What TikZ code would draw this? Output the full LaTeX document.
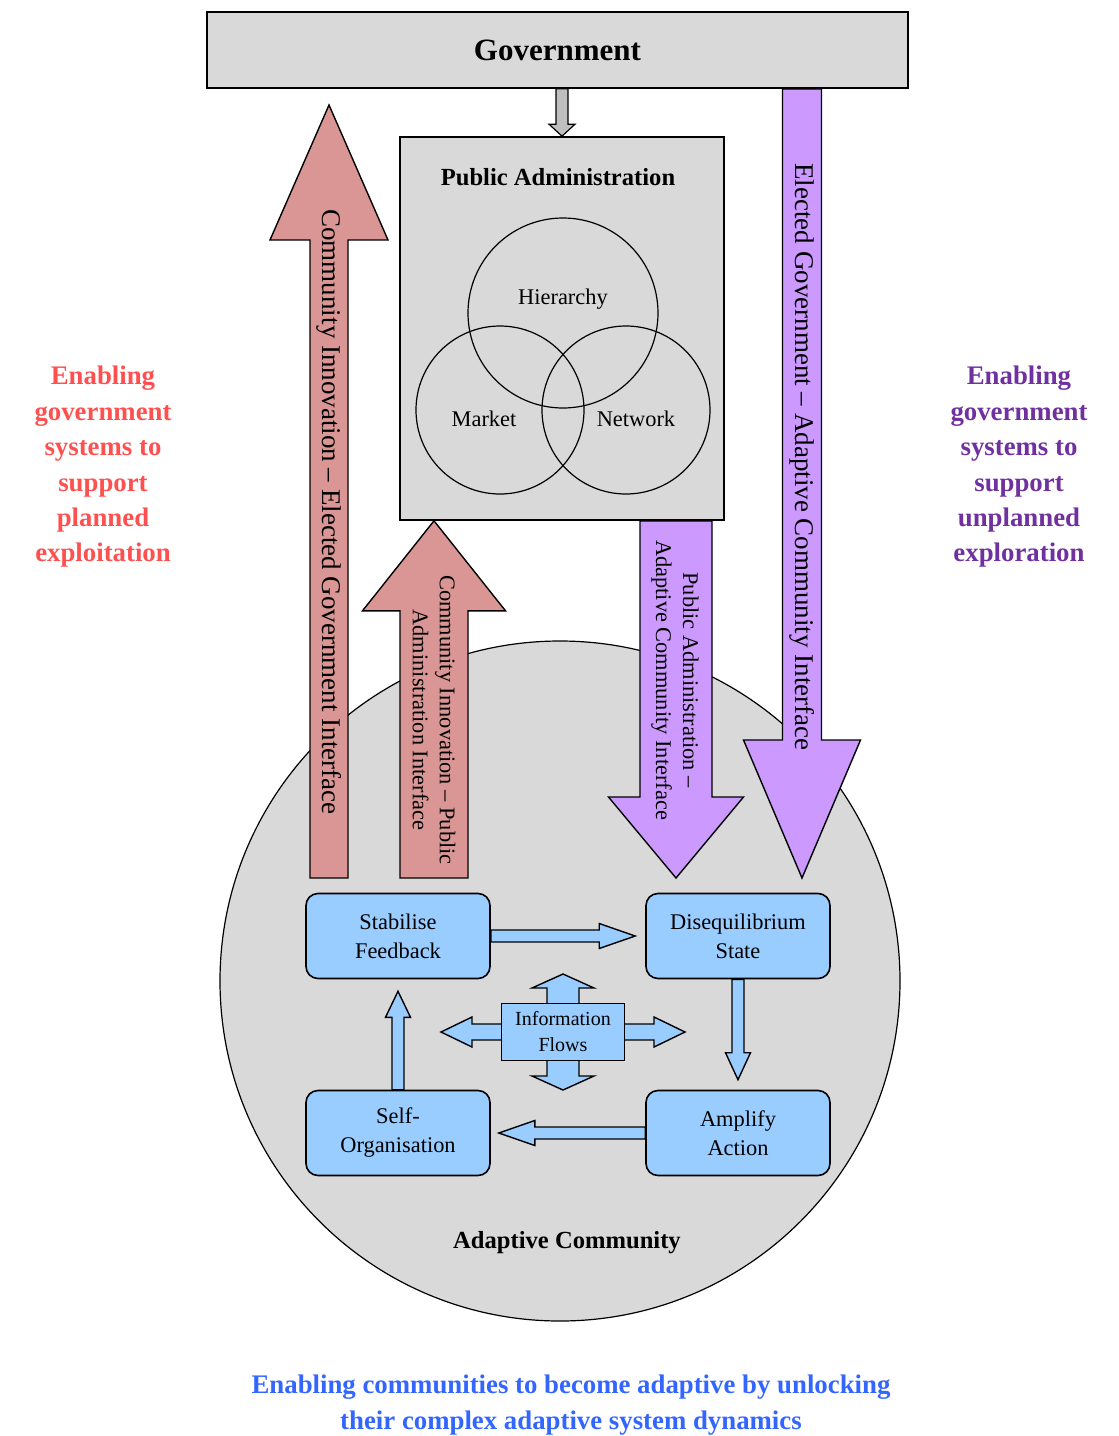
\documentclass[tikz,border=0pt]{standalone}
\usepackage{fontspec}
\setmainfont{Liberation Serif}
\usetikzlibrary{calc}

\definecolor{casgray}{HTML}{D9D9D9}
\definecolor{casblue}{HTML}{99CCFF}
\definecolor{casred}{HTML}{D99694}
\definecolor{caspurple}{HTML}{CC99FF}
\definecolor{planred}{HTML}{FF5050}
\definecolor{unplanpurple}{HTML}{7030A0}
\definecolor{goalblue}{HTML}{3366FF}

% block arrow: style, from, to, half shaft, half head, head length
\newcommand{\blockarrow}[6]{%
  \coordinate (ba-p) at ($(#3)!#6!(#2)$);
  \draw[#1] ($(#2)!#4!90:(#3)$) -- ($(ba-p)!#4!90:(#3)$) -- ($(ba-p)!#5!90:(#3)$)
    -- (#3) -- ($(ba-p)!#5!-90:(#3)$) -- ($(ba-p)!#4!-90:(#3)$)
    -- ($(#2)!#4!-90:(#3)$) -- cycle;
}

\begin{document}
\begin{tikzpicture}[x=0.5pt, y=-0.5pt]
%[node distance=2cm]

\tikzstyle{casnode}=[align=center, draw=black, fill=casgray, line width=0.8pt]
\tikzstyle{casstep}=[align=center, draw=black, fill=casblue, line width=0.8pt,
rounded corners=6pt, minimum width=92pt, minimum height=42.5pt,
font=\fontsize{11.2}{14.5}\selectfont]
\tikzstyle{casflow}=[align=center, draw=black, fill=casblue, line width=0.7pt,
minimum width=61.5pt, minimum height=28.5pt, inner sep=1pt,
font=\fontsize{10}{13}\selectfont]
\tikzstyle{casring}=[shape=circle, draw=black, line width=0.6pt, inner sep=0pt]
\tikzstyle{caslabel}=[align=center, font=\fontsize{11.2}{13.5}\selectfont]
\tikzstyle{castitle}=[font=\bfseries\fontsize{12.3}{15}\selectfont]
\tikzstyle{casside}=[align=center, font=\bfseries\fontsize{13.4}{17.7}\selectfont]
\tikzstyle{redarrow}=[draw=black, fill=casred, line width=0.7pt]
\tikzstyle{purplearrow}=[draw=black, fill=caspurple, line width=0.7pt]
\tikzstyle{bluearrow}=[draw=black, fill=casblue, line width=0.7pt]
\tikzstyle{grayarrow}=[draw=black, fill=black!25, line width=0.6pt]
\tikzstyle{arrowtext}=[rotate=-90, align=center]

\useasboundingbox (0,0) rectangle (1119,1436);

\node[casring, fill=casgray, minimum size=340pt] (community) at (560,981) {};
\node[castitle] (commtitle) at (567,1243) {Adaptive Community};

\node[casnode, minimum width=350.5pt, minimum height=38pt,
font=\bfseries\fontsize{15.5}{18}\selectfont] (gov) at (557.5,50) {Government};
\node[casnode, minimum width=162pt, minimum height=191.5pt] (pubadmin) at (562,328.5) {};
\node[castitle] (patitle) at (558,177) {Public Administration};
\node[casring, minimum size=95pt] (hierarchy) at (563,313) {};
\node[casring, minimum size=84pt] (market) at (500,410) {};
\node[casring, minimum size=84pt] (network) at (626,410) {};
\node[caslabel] (hierlabel) at (563,299) {Hierarchy};
\node[caslabel] (marketlabel) at (484,419) {Market};
\node[caslabel] (networklabel) at (636,419) {Network};

\coordinate (redtip) at (329,105);
\coordinate (redbase) at (329,878);
\coordinate (pinkbase) at (434,878);
\coordinate (pinktip) at (pubadmin.south -| pinkbase);
\coordinate (lpurpletip) at (676,878);
\coordinate (lpurplebase) at (pubadmin.south -| lpurpletip);
\coordinate (rpurpletip) at (802,878);
\coordinate (rpurplebase) at (gov.south -| rpurpletip);
\coordinate (graybase) at (gov.south -| pubadmin.north);

\blockarrow{grayarrow}{graybase}{pubadmin.north}{3pt}{6.5pt}{6pt}
\blockarrow{redarrow}{redbase}{redtip}{9.5pt}{29.5pt}{67.5pt}
\blockarrow{redarrow}{pinkbase}{pinktip}{17pt}{35.75pt}{45pt}
\blockarrow{purplearrow}{lpurplebase}{lpurpletip}{18pt}{33.75pt}{40.5pt}
\blockarrow{purplearrow}{rpurplebase}{rpurpletip}{9.75pt}{29.25pt}{69pt}

\node[arrowtext, font=\fontsize{13.5}{16}\selectfont] (redtext) at (329,512)
{Community Innovation -- Elected Government Interface};
\node[arrowtext, font=\fontsize{11.2}{13.5}\selectfont] (pinktext) at (434,720)
{Community Innovation -- Public\\Administration Interface};
\node[arrowtext, font=\fontsize{11.2}{13.5}\selectfont] (lpurpletext) at (675,680)
{Public Administration --\\Adaptive Community Interface};
\node[arrowtext, font=\fontsize{13.5}{16}\selectfont] (rpurpletext) at (802,457)
{Elected Government -- Adaptive Community Interface};

\node[casstep] (stab) at (398,936) {Stabilise\\Feedback};
\node[casstep] (diseq) at (738,936) {Disequilibrium\\State};
\node[casstep] (selforg) at (398,1133) {Self-\\Organisation};
\node[casstep] (amplify) at (738,1133) {Amplify\\Action};

\coordinate (diseqin) at ($(diseq.west)+(-10,0)$);
\coordinate (amplifyin) at ($(amplify.north)+(0,-10)$);
\coordinate (selforgin) at ($(selforg.east)+(8,0)$);
\coordinate (stabin) at ($(stab.south)+(0,12)$);

\blockarrow{bluearrow}{stab.east}{diseqin}{3pt}{6.25pt}{18pt}
\blockarrow{bluearrow}{diseq.south}{amplifyin}{3pt}{6.25pt}{13.5pt}
\blockarrow{bluearrow}{amplify.west}{selforgin}{3pt}{6.25pt}{18pt}
\blockarrow{bluearrow}{selforg.north}{stabin}{3pt}{6.25pt}{13pt}

\coordinate (infoc) at (563,1032);
\coordinate (infoN) at ($(infoc)+(0,-58)$);
\coordinate (infoS) at ($(infoc)+(0,58)$);
\coordinate (infoE) at ($(infoc)+(122,0)$);
\coordinate (infoW) at ($(infoc)+(-122,0)$);
\foreach \tip/\sw/\hw/\hl in {infoN/8pt/15.5pt/7pt, infoS/8pt/15.5pt/7pt,
infoE/4pt/7.5pt/15.5pt, infoW/4pt/7.5pt/15.5pt}
{\blockarrow{bluearrow}{infoc}{\tip}{\sw}{\hw}{\hl}}
\node[casflow] (info) at (infoc) {Information\\Flows};

\node[casside, text=planred] (planned) at (103,467)
{Enabling\\government\\systems to\\support\\planned\\exploitation};
\node[casside, text=unplanpurple] (unplanned) at (1019,467)
{Enabling\\government\\systems to\\support\\unplanned\\exploration};
\node[casside, text=goalblue] (goal) at (571,1405)
{Enabling communities to become adaptive by unlocking\\their complex adaptive system dynamics};
\end{tikzpicture}
\end{document}
